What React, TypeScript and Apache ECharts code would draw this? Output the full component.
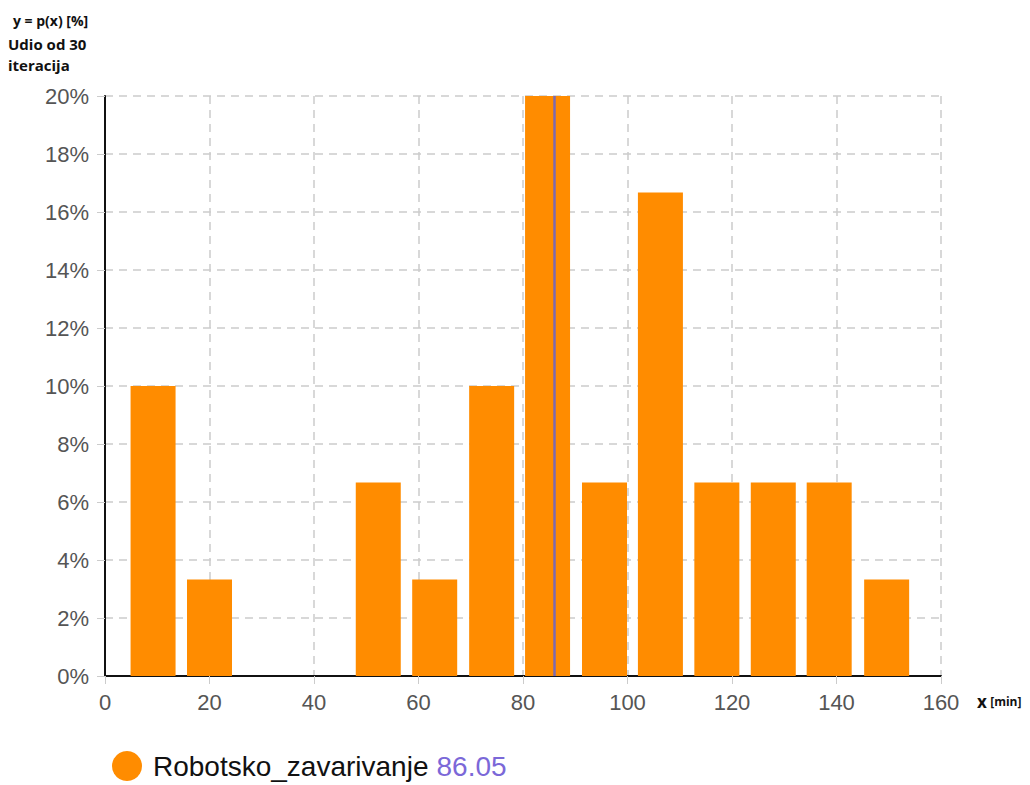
import React, { useEffect, useRef } from "react";
import * as echarts from "echarts";

const binCenters = [9.2, 20.0, 30.8, 41.6, 52.3, 63.1, 74.0, 84.7, 95.6, 106.3, 117.1, 127.9, 138.6, 149.6];
const binPercents = [10, 3.33, 0, 0, 6.67, 3.33, 10, 20, 6.67, 16.67, 6.67, 6.67, 6.67, 3.33];
const seriesName = "Robotsko_zavarivanje";
const meanValue = 86.05;
const xTicks = [0, 20, 40, 60, 80, 100, 120, 140, 160];
const yTicks = [0, 2, 4, 6, 8, 10, 12, 14, 16, 18, 20];

export default function App() {
  const ref = useRef<HTMLDivElement>(null);
  useEffect(() => {
    if (!ref.current) return;
    const chart = echarts.init(ref.current, null, { renderer: "svg" });
    const font = "'Liberation Sans', Arial, sans-serif";
    const boldFont = "'Open Sans', sans-serif";
    chart.setOption({
      animation: false,
      textStyle: { fontFamily: font },
      grid: { left: 105, right: 89, top: 96, bottom: 109, containLabel: false },
      xAxis: {
        type: "value",
        min: xTicks[0],
        max: xTicks[xTicks.length - 1],
        interval: 20,
        axisLine: { show: true, onZero: false, lineStyle: { color: "#111", width: 2 } },
        axisTick: { show: true, length: 8, lineStyle: { color: "#ccc" } },
        axisLabel: { color: "#555", fontSize: 22, margin: 15, fontFamily: font },
        splitLine: { show: true, lineStyle: { color: "#ccc", type: [8, 6], width: 1.5 } },
      },
      yAxis: {
        type: "value",
        min: yTicks[0],
        max: yTicks[yTicks.length - 1],
        interval: 2,
        axisLine: { show: true, lineStyle: { color: "#111", width: 2 } },
        axisTick: { show: true, length: 8, lineStyle: { color: "#ccc" } },
        axisLabel: { color: "#555", fontSize: 22, margin: 16, formatter: "{value}%", fontFamily: font },
        splitLine: { show: true, lineStyle: { color: "#ccc", type: [8, 6], width: 1.5 } },
      },
      legend: {
        show: true,
        left: 112,
        top: 751,
        icon: "circle",
        itemWidth: 32,
        itemHeight: 30,
        itemGap: 10,
        padding: 0,
        data: [seriesName],
        formatter: (name: string) => `{g| }{a|${name}}{s| }{b|${meanValue}}`,
        textStyle: {
          fontFamily: font,
          rich: {
            g: { fontSize: 27, lineHeight: 28, width: 5 },
            a: { fontSize: 28, lineHeight: 28, color: "#111", fontFamily: font },
            s: { fontSize: 28, lineHeight: 28, width: 8 },
            b: { fontSize: 28, lineHeight: 28, color: "#7b68d8", fontFamily: font },
          },
        },
      },
      graphic: [
        {
          type: "text",
          left: 13,
          top: 13,
          style: { text: "y = p(x) [%]", fontSize: 14, fontWeight: "bold", fill: "#111", fontFamily: boldFont },
        },
        {
          type: "text",
          left: 8,
          top: 33,
          style: { text: "Udio od 30\niteracija", fontSize: 15, fontWeight: "bold", lineHeight: 21, fill: "#111", fontFamily: boldFont },
        },
        {
          type: "text",
          left: 977,
          top: 693,
          style: {
            text: "{a|x} {b|[min]}",
            rich: {
              a: { fontSize: 17, fontWeight: "bold", fill: "#111", fontFamily: boldFont },
              b: { fontSize: 12, fontWeight: "bold", fill: "#111", fontFamily: boldFont },
            },
          },
        },
      ],
      series: [
        {
          name: seriesName,
          type: "bar",
          barWidth: 45,
          itemStyle: { color: "#ff8c00" },
          data: binCenters.map((c, i) => [c, binPercents[i]]),
          markLine: {
            symbol: "none",
            silent: true,
            label: { show: false },
            lineStyle: { color: "#7c6ab0", width: 2.5, type: "solid" },
            data: [{ xAxis: meanValue }],
          },
        },
      ],
    });
    return () => chart.dispose();
  }, []);
  return <div ref={ref} style={{ position: "absolute", left: 0, top: 0, width: 1030, height: 785 }} />;
}
